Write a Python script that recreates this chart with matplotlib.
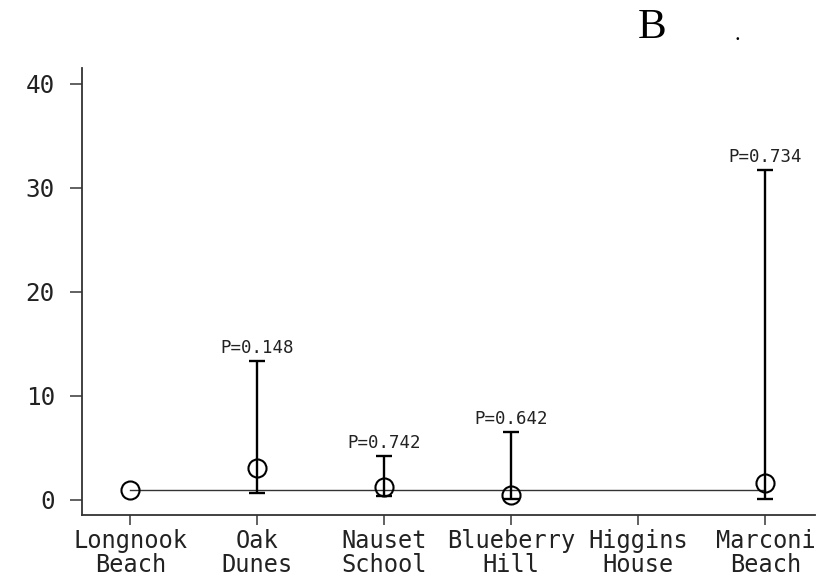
import numpy as np
import matplotlib
matplotlib.use('Agg')
import matplotlib.pyplot as plt

# 部位ごとのオッズ比と95%信頼区間
sites = ['Longnook\nBeach', 'Oak\nDunes', 'Nauset\nSchool',
         'Blueberry\nHill', 'Higgins\nHouse', 'Marconi\nBeach']
odds = [1.0, 3.1, 1.25, 0.5, np.nan, 1.65]
ci_low = [np.nan, 0.67, 0.4, 0.1, np.nan, 0.1]
ci_high = [np.nan, 13.3, 4.2, 6.5, np.nan, 31.7]
pvals = ['', '0.148', '0.742', '0.642', '', '0.734']
ref_value = 1.0

mono = 'DejaVu Sans Mono'

fig = plt.figure(figsize=(8.31, 5.79), dpi=100)
ax = fig.add_axes([0.0987, 0.1105, 0.882, 0.7721])

x = np.arange(len(sites))

# 基準線（オッズ比=1）
ax.plot([x[0], x[-1]], [ref_value, ref_value], color='#333333', lw=1.0, zorder=1)

# 信頼区間
for i in range(len(sites)):
    if np.isnan(ci_low[i]):
        continue
    ax.errorbar(x[i], odds[i],
                yerr=[[odds[i] - ci_low[i]], [ci_high[i] - odds[i]]],
                fmt='none', ecolor='black', elinewidth=1.7,
                capsize=6, capthick=1.7, zorder=2)
    ax.annotate(f'P={pvals[i]}', (x[i], ci_high[i]), xytext=(0, 3),
                textcoords='offset points', ha='center', va='bottom',
                fontsize=12.5, family=mono, color='#222222')

# 点推定値（白抜きの丸）
ax.plot(x, odds, 'o', ms=13, mfc='none', mec='black', mew=1.5,
        linestyle='none', zorder=3)

ax.set_xlim(-0.38, 5.39)
ax.set_ylim(-1.45, 41.5)
ax.set_xticks(x)
ax.set_xticklabels(sites, family=mono, fontsize=17, linespacing=1.0,
                   color='#222222')
ax.set_yticks([0, 10, 20, 30, 40])
ax.set_yticklabels(['0', '10', '20', '30', '40'], family=mono, fontsize=17.5,
                   color='#222222')

for side in ['top', 'right']:
    ax.spines[side].set_visible(False)
for side in ['left', 'bottom']:
    ax.spines[side].set_color('#333333')
    ax.spines[side].set_linewidth(1.3)

ax.tick_params(axis='y', direction='out', length=8.5, width=1.3,
               color='#555555', pad=11)
ax.tick_params(axis='x', direction='out', length=7, width=1.3,
               color='#555555', pad=3)

# パネル記号
fig.text(652 / 831, 1 - 28 / 579, 'B', family='Liberation Serif',
         fontsize=31, ha='center', va='center')
fig.text(737 / 831, 1 - 36 / 579, '.', family='Liberation Serif',
         fontsize=16, ha='center', va='center')

plt.savefig('out.png', dpi=100)
